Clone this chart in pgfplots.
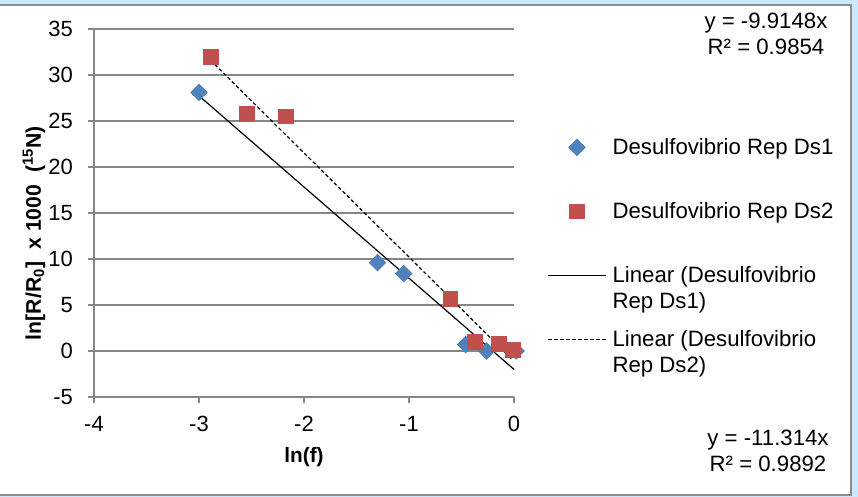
\documentclass[border=0pt]{standalone}
\usepackage{fontspec}
\setmainfont{Liberation Sans}
\usepackage{pgfplots}
\pgfplotsset{compat=1.18}
\definecolor{bgblue}{RGB}{204,232,255}
\definecolor{framegray}{RGB}{140,140,140}
\definecolor{gridgray}{RGB}{134,134,134}
\definecolor{dsone}{RGB}{79,129,189}
\definecolor{dstwo}{RGB}{192,80,77}

\begin{document}
\begin{tikzpicture}
\begin{scope}[x=0.5pt,y=-0.5pt,yshift=248.5pt]
 \fill[bgblue] (0,0) rectangle (858,497);
 \useasboundingbox (0,0) rectangle (858,497);
 \filldraw[fill=white,draw=framegray,line width=0.8pt] (-3,5) rectangle (851,495);
\end{scope}
\begin{axis}[
  at={(47pt,50pt)}, anchor=south west, scale only axis,
  width=210pt, height=184pt,
  xmin=-4, xmax=0, ymin=-5, ymax=35,
  xtick={-4,-3,-2,-1,0}, ytick={-5,0,5,10,15,20,25,30,35},
  axis lines*=left, axis line style={gridgray, line width=0.75pt, -},
  ymajorgrids, grid style={gridgray, line width=0.75pt},
  tick align=outside, major tick length=3pt,
  tick style={gridgray, line width=0.75pt},
  xtick pos=bottom, ytick pos=left,
  tick label style={font=\fontsize{11}{13}\selectfont, black},
  yticklabel style={xshift=-4pt},
  xticklabel style={yshift=-3pt},
  /pgf/number format/assume math mode=true,
  xlabel={\bfseries ln(f)},
  xlabel style={at={(axis description cs:0.5,-0.163)}, anchor=center, font=\fontsize{10.4}{12}\selectfont},
  ylabel={\bfseries ln[R/R\textsubscript{0}]\ \ x 1000\ \ (\textsuperscript{15}N)},
  ylabel style={at={(axis description cs:-0.143,0.4457)}, anchor=center, rotate=0, font=\fontsize{10.6}{12}\selectfont},
  clip=false,
  legend style={at={(1.0786,0.7024)}, anchor=north west, draw=none, fill=none,
    inner sep=0pt, row sep=8pt, column sep=3pt,
    font=\fontsize{11.1}{13}\selectfont,
    nodes={inner sep=0pt, text height=8pt, text depth=16pt},
    cells={anchor=base west}},
  legend image code/.code={\draw[mark repeat=2,mark phase=2] plot coordinates {(0pt,0pt) (14.5pt,0pt) (29pt,0pt)};},
  legend image post style={yshift=3.8pt},
]
\addplot[only marks, mark=square*, mark size=2.9pt, mark options={rotate=45, fill=dsone, draw=dsone}]
  coordinates {(-3.0,28.1) (-1.30,9.6) (-1.05,8.4) (-0.46,0.7) (-0.26,0.0) (0.02,0.0)};
\addlegendentry{Desulfovibrio Rep Ds1}
\addplot[only marks, mark=square*, mark size=3.7pt, mark options={fill=dstwo, draw=dstwo}]
  coordinates {(-2.89,32.0) (-2.54,25.8) (-2.17,25.5) (-0.605,5.7) (-0.37,1.0) (-0.14,0.8) (-0.01,0.1)};
\addlegendentry{Desulfovibrio Rep Ds2}
\addplot[black, line width=0.6pt, mark=none] coordinates {(-3.0,27.74) (0.0,-2.0)};
\addlegendentry{\begin{tabular}[t]{@{}l@{}}Linear (Desulfovibrio\\Rep Ds1)\end{tabular}}
\addplot[black, line width=0.6pt, dash pattern=on 1.8pt off 1.2pt, mark=none] coordinates {(-2.89,31.60) (-0.01,-0.99)};
\addlegendentry{\begin{tabular}[t]{@{}l@{}}Linear (Desulfovibrio\\Rep Ds2)\end{tabular}}
\end{axis}
\begin{scope}[x=0.5pt,y=-0.5pt,yshift=248.5pt, every node/.style={font=\fontsize{11.1}{13}\selectfont, inner sep=0pt}]
 \node at (766,23) {y = -9.9148x};
 \node at (766,47) {R² = 0.9854};
 \node at (768,440) {y = -11.314x};
 \node at (768,464) {R² = 0.9892};
\end{scope}
\end{tikzpicture}
\end{document}
